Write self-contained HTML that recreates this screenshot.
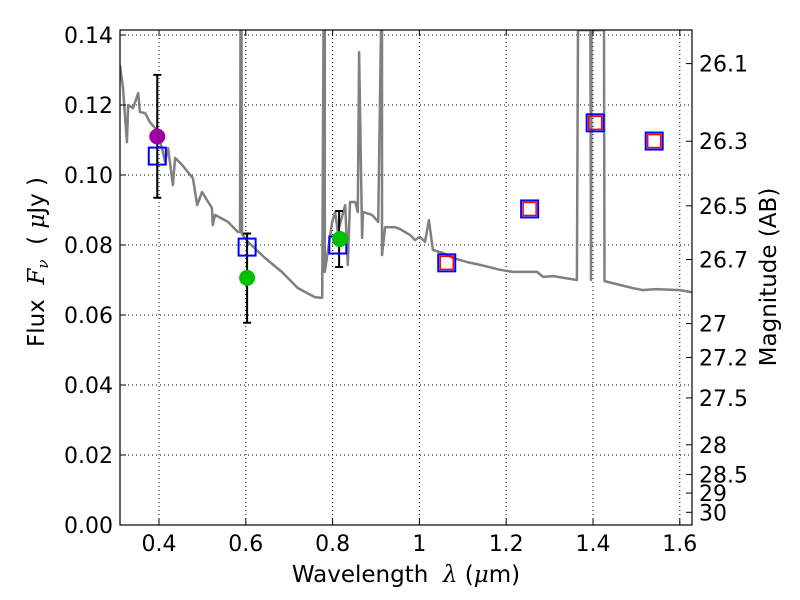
<!DOCTYPE html>
<html><head><meta charset="utf-8"><style>
body{margin:0;background:#fff}
svg{display:block;font-family:"DejaVu Sans","Liberation Sans",sans-serif}
text{white-space:pre}
</style></head><body>
<svg id="chart" width="800" height="600" viewBox="0 0 800 600">
<defs><clipPath id="pc"><rect x="120" y="30" width="572" height="495"/></clipPath></defs>
<rect width="800" height="600" fill="#fff"/>
<g id="grid"></g>
<g id="plot" clip-path="url(#pc)"></g>
<g id="axes"></g>
</svg>
<script>
const xTicks=[0.4,0.6,0.8,1.0,1.2,1.4,1.6];
const xTickLabels=["0.4","0.6","0.8","1","1.2","1.4","1.6"];
const yTicks=[0,0.02,0.04,0.06,0.08,0.10,0.12,0.14];
const yTickLabels=["0.00","0.02","0.04","0.06","0.08","0.10","0.12","0.14"];
const magTicks=[26.1,26.3,26.5,26.7,27,27.2,27.5,28,28.5,29,30];
const magTickLabels=["26.1","26.3","26.5","26.7","27","27.2","27.5","28","28.5","29","30"];
const specPoints=[
[0.310,0.1314],[0.317,0.1249],[0.326,0.1094],[0.329,0.120],[0.340,0.1191],[0.352,0.1234],[0.356,0.118],
[0.368,0.1177],[0.379,0.1151],[0.391,0.1134],[0.407,0.1077],[0.414,0.1037],[0.421,0.1077],[0.432,0.0971],
[0.437,0.1049],[0.453,0.1029],[0.478,0.0991],[0.488,0.0914],[0.499,0.0951],[0.522,0.0906],[0.524,0.0857],
[0.529,0.0886],[0.559,0.0866],[0.582,0.0837],[0.5866,0.0837],[0.5878,0.1414],[0.5901,0.1414],[0.5912,0.0831],
[0.605,0.0809],[0.644,0.0763],[0.683,0.0723],[0.720,0.0677],[0.759,0.0651],[0.776,0.0649],[0.779,0.1414],
[0.782,0.1414],[0.782,0.0723],[0.799,0.0866],[0.806,0.0894],[0.812,0.0837],[0.829,0.0914],[0.835,0.0743],
[0.840,0.0923],[0.852,0.0923],[0.858,0.0894],[0.861,0.1351],[0.868,0.082],[0.870,0.0894],[0.891,0.0886],
[0.905,0.0866],[0.9115,0.1414],[0.9138,0.1414],[0.9138,0.0771],[0.921,0.0851],[0.944,0.0851],[0.955,0.0846],
[0.978,0.0829],[0.990,0.0814],[1.001,0.0823],[1.013,0.0809],[1.022,0.0871],[1.031,0.0786],[1.054,0.0777],
[1.077,0.0763],[1.110,0.0751],[1.140,0.0743],[1.186,0.0729],[1.216,0.0723],[1.271,0.0723],[1.285,0.0709],
[1.308,0.0711],[1.363,0.070],[1.3654,0.1414],[1.394,0.1414],[1.3954,0.070],[1.3965,0.1414],[1.4254,0.1414],
[1.4265,0.0697],[1.492,0.0677],[1.515,0.0671],[1.545,0.0674],[1.600,0.0671],[1.623,0.0666],[1.64,0.0664]];
const circLam=[0.396,0.603,0.817];
const circFlux=[0.111,0.0706,0.0817];
const circColor=["#a000a0","#00c000","#00c000"];
const errLam=[0.396,0.603,0.815];
const errLo=[0.0935,0.0578,0.0737];
const errHi=[0.1286,0.0833,0.0897];
const blueLam=[0.396,0.603,0.812,1.063,1.254,1.405,1.541];
const blueFlux=[0.1054,0.0794,0.080,0.0749,0.0903,0.1149,0.1097];
const redLam=[1.063,1.254,1.405,1.541];
const redFlux=[0.0749,0.0903,0.1149,0.1097];

const L=120,R=692,T=30,B=525;
const X=l=>159+(l-0.4)*434;
const Y=f=>B-f*3500;
const NS="http://www.w3.org/2000/svg";
function mk(tag,at,parent){const e=document.createElementNS(NS,tag);for(const k in at)e.setAttribute(k,at[k]);document.getElementById(parent).appendChild(e);return e;}

xTicks.forEach((t,i)=>{
 const g=mk('line',{x1:X(t),x2:X(t),y1:T,y2:B,stroke:'#000','stroke-width':1,'stroke-dasharray':'1,3'},'grid');
 
 
 mk('line',{x1:X(t),x2:X(t),y1:B,y2:B-6,stroke:'#000'},'axes');
 mk('line',{x1:X(t),x2:X(t),y1:T,y2:T+6,stroke:'#000'},'axes');
 const tx=mk('text',{x:X(t),y:B+26,'font-size':22,'text-anchor':'middle'},'axes');
 tx.textContent=xTickLabels[i];
 
 
});
yTicks.forEach((t,i)=>{
 const g=mk('line',{x1:L,x2:R,y1:Y(t),y2:Y(t),stroke:'#000','stroke-width':1,'stroke-dasharray':'1,3'},'grid');
 
 
 mk('line',{x1:L,x2:L+6,y1:Y(t),y2:Y(t),stroke:'#000'},'axes');
 const tx=mk('text',{x:L-7,y:Y(t)+8,'font-size':22,'text-anchor':'end'},'axes');
 tx.textContent=yTickLabels[i];
 
 
});
magTicks.forEach((m,i)=>{
 const f=Math.pow(10,(23.9-m)/2.5);
 mk('line',{x1:R,x2:R-6,y1:Y(f),y2:Y(f),stroke:'#000'},'axes');
 const tx=mk('text',{x:R+7,y:Y(f)+8,'font-size':22},'axes');
 tx.textContent=magTickLabels[i];
 
 
});
let d='';specPoints.forEach((p,i)=>{d+=(i?'L':'M')+X(p[0]).toFixed(1)+','+Y(Math.min(p[1],0.1414)).toFixed(1);});
const sp=mk('path',{d:d,fill:'none',stroke:'#808080','stroke-width':2.5,'stroke-linejoin':'round'},'plot');


errLam.forEach((l,i)=>{
 const x=X(l);
 const e=mk('path',{d:`M${x},${Y(errLo[i])}V${Y(errHi[i])}M${x-4},${Y(errLo[i])}h8M${x-4},${Y(errHi[i])}h8`,stroke:'#000','stroke-width':2,fill:'none'},'plot');
 
 
});
blueLam.forEach((l,i)=>{
 const r=mk('rect',{x:X(l)-8.5,y:Y(blueFlux[i])-8.5,width:17,height:17,fill:'none',stroke:'#0000ff','stroke-width':2},'plot');
 
 
});
redLam.forEach((l,i)=>{
 const r=mk('rect',{x:X(l)-6.5,y:Y(redFlux[i])-6.5,width:13,height:13,fill:'none',stroke:'#ff0000','stroke-width':1.5},'plot');
 
 
});
circLam.forEach((l,i)=>{
 const c=mk('circle',{cx:X(l),cy:Y(circFlux[i]),r:8,fill:circColor[i]},'plot');
 
 
});
const fr=mk('rect',{x:L,y:T,width:R-L,height:B-T,fill:'none',stroke:'#000','stroke-width':1.2},'axes');


</script>
<svg style="position:absolute;left:0;top:0" width="800" height="600">
<text x="406" y="582" font-size="23" text-anchor="middle" font-family="DejaVu Sans,sans-serif">Wavelength  <tspan font-style="italic" font-family="DejaVu Serif,serif">λ</tspan> (<tspan font-style="italic" font-family="DejaVu Serif,serif">μ</tspan>m)</text>
<text transform="translate(44,262) rotate(-90)" font-size="23" text-anchor="middle" font-family="DejaVu Sans,sans-serif">Flux  <tspan font-style="italic" font-family="DejaVu Serif,serif">F<tspan font-size="15" dy="4">ν</tspan></tspan><tspan dy="-4">  ( </tspan><tspan font-style="italic" font-family="DejaVu Serif,serif">μ</tspan>Jy )</text>
<text transform="translate(776,277) rotate(-90)" font-size="23" text-anchor="middle" font-family="DejaVu Sans,sans-serif">Magnitude (AB)</text>
</svg>
</body></html>
